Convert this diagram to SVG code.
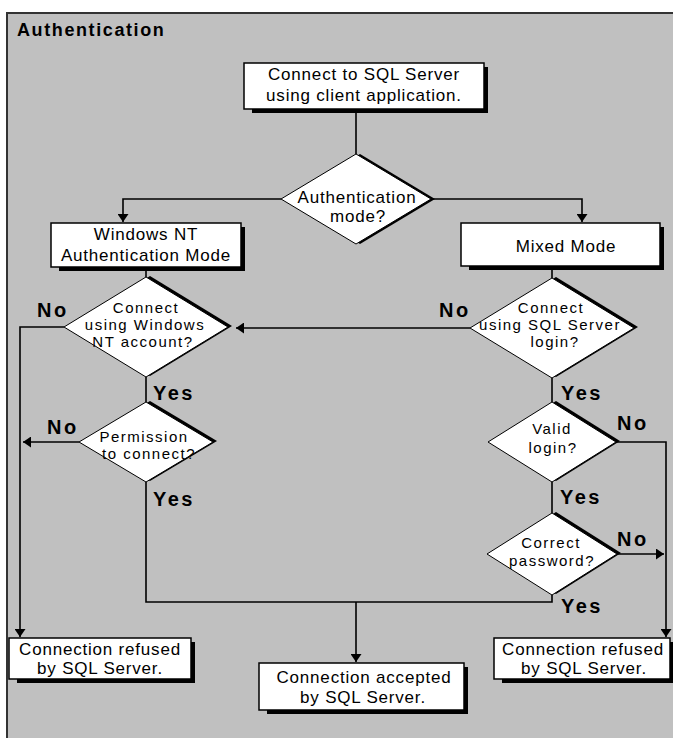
<svg xmlns="http://www.w3.org/2000/svg" width="673" height="738" viewBox="0 0 673 738">
<style>
.t{font-family:"Liberation Sans",Arial,sans-serif;font-size:17px;letter-spacing:0.8px;fill:#000;text-anchor:middle}
.td{font-family:"Liberation Sans",Arial,sans-serif;font-size:15px;letter-spacing:1.5px;fill:#000;text-anchor:middle}
.lb{font-family:"Liberation Sans",Arial,sans-serif;font-size:20px;font-weight:bold;letter-spacing:2.5px;fill:#000}
.box{fill:#fff;stroke:#000;stroke-width:1.5}
.sh{fill:#000}
.dia{fill:#fff;stroke:#000;stroke-width:1}
.dsh{fill:#000}
</style>
<defs>
<marker id="ah" viewBox="0 0 8 11" refX="8" refY="5.5" markerWidth="8" markerHeight="11" markerUnits="userSpaceOnUse" orient="auto"><path d="M0,0L8,5.5L0,11z" fill="#000"/></marker>
</defs>
<rect x="0" y="0" width="673" height="738" fill="#fff"/>
<rect x="7" y="13" width="700" height="740" fill="#c0c0c0" stroke="#333" stroke-width="2"/>
<text x="17" y="36" font-family="Liberation Sans, Arial, sans-serif" font-size="18" font-weight="bold" letter-spacing="1.6">Authentication</text>

<g id="connectors" fill="none" stroke="#000" stroke-width="1.6">
<path d="M356,109V154"/>
<path d="M281,199H123V222" marker-end="url(#ah)"/>
<path d="M431,199H582V222" marker-end="url(#ah)"/>
<path d="M146,267V277"/>
<path d="M64,327H20V637" marker-end="url(#ah)"/>
<path d="M146,377V402"/>
<path d="M79,442H23" marker-end="url(#ah)"/>
<path d="M146,482V602H552V595"/>
<path d="M356,602V662" marker-end="url(#ah)"/>
<path d="M552,266V278"/>
<path d="M470,328H236" marker-end="url(#ah)"/>
<path d="M552,378V402"/>
<path d="M616,442H666V637" marker-end="url(#ah)"/>
<path d="M552,482V513"/>
<path d="M617,554H664" marker-end="url(#ah)"/>
</g>

<g id="labels">
<text class="lb" x="37" y="317">No</text>
<text class="lb" x="153" y="400">Yes</text>
<text class="lb" x="47" y="434">No</text>
<text class="lb" x="153" y="506">Yes</text>
<text class="lb" x="439" y="317">No</text>
<text class="lb" x="561" y="400">Yes</text>
<text class="lb" x="617" y="430">No</text>
<text class="lb" x="560" y="504">Yes</text>
<text class="lb" x="617" y="546">No</text>
<text class="lb" x="561" y="613">Yes</text>
</g>

<g id="start">
<rect class="sh" x="484" y="67" width="4" height="46"/>
<rect class="sh" x="252" y="109" width="236" height="4"/>
<rect class="box" x="244" y="63" width="240" height="46"/>
<text class="t" x="364" y="80">Connect to SQL Server</text>
<text class="t" x="364" y="101">using client application.</text>
</g>

<g id="authMode">
<polygon class="dsh" transform="translate(4,0)" points="356,154 431,199 356,244 281,199"/>
<polygon class="dia" points="356,154 431,199 356,244 281,199"/>
<text class="t" x="357" y="203">Authentication</text>
<text class="t" x="358" y="222">mode?</text>
</g>

<g id="winMode">
<rect class="sh" x="241" y="227" width="4" height="44"/>
<rect class="sh" x="59" y="267" width="186" height="4"/>
<rect class="box" x="51" y="223" width="190" height="44"/>
<text class="t" x="146" y="240">Windows NT</text>
<text class="t" x="146" y="261">Authentication Mode</text>
</g>

<g id="mixedMode">
<rect class="sh" x="660" y="227" width="4" height="43"/>
<rect class="sh" x="469" y="266" width="195" height="4"/>
<rect class="box" x="461" y="223" width="199" height="43"/>
<text class="t" x="566" y="252">Mixed Mode</text>
</g>

<g id="winAccount">
<polygon class="dsh" transform="translate(4,-1)" points="146,277 228,327 146,377 64,327"/>
<polygon class="dia" points="146,277 228,327 146,377 64,327"/>
<text class="td" x="146" y="313">Connect</text>
<text class="td" x="145" y="330">using Windows</text>
<text class="td" x="143" y="347">NT account?</text>
</g>

<g id="permission">
<polygon class="dsh" transform="translate(4,-1)" points="146,402 213,442 146,482 79,442"/>
<polygon class="dia" points="146,402 213,442 146,482 79,442"/>
<text class="td" x="144" y="442">Permission</text>
<text class="td" x="149" y="459">to connect?</text>
</g>

<g id="sqlLogin">
<polygon class="dsh" transform="translate(4,-1)" points="552,278 634,328 552,378 470,328"/>
<polygon class="dia" points="552,278 634,328 552,378 470,328"/>
<text class="td" x="551" y="313">Connect</text>
<text class="td" x="550" y="330">using SQL Server</text>
<text class="td" x="555" y="347">login?</text>
</g>

<g id="validLogin">
<polygon class="dsh" transform="translate(4,-1)" points="552,402 616,442 552,482 488,442"/>
<polygon class="dia" points="552,402 616,442 552,482 488,442"/>
<text class="td" x="552" y="434">Valid</text>
<text class="td" x="553" y="453">login?</text>
</g>

<g id="password">
<polygon class="dsh" transform="translate(4,-1)" points="552,513 617,554 552,595 487,554"/>
<polygon class="dia" points="552,513 617,554 552,595 487,554"/>
<text class="td" x="551" y="548">Correct</text>
<text class="td" x="552" y="566">password?</text>
</g>

<g id="refusedLeft">
<rect class="sh" x="191" y="642" width="4" height="41"/>
<rect class="sh" x="17" y="679" width="178" height="4"/>
<rect class="box" x="9" y="638" width="182" height="41"/>
<text class="t" x="100" y="655">Connection refused</text>
<text class="t" x="100" y="674">by SQL Server.</text>
</g>

<g id="accepted">
<rect class="sh" x="464" y="667" width="4" height="47"/>
<rect class="sh" x="267" y="710" width="201" height="4"/>
<rect class="box" x="259" y="663" width="205" height="47"/>
<text class="t" x="364" y="683">Connection accepted</text>
<text class="t" x="363" y="703">by SQL Server.</text>
</g>

<g id="refusedRight">
<rect class="sh" x="670" y="642" width="4" height="41"/>
<rect class="sh" x="502" y="679" width="172" height="4"/>
<rect class="box" x="494" y="638" width="176" height="41"/>
<text class="t" x="583" y="655">Connection refused</text>
<text class="t" x="584" y="674">by SQL Server.</text>
</g>
</svg>
